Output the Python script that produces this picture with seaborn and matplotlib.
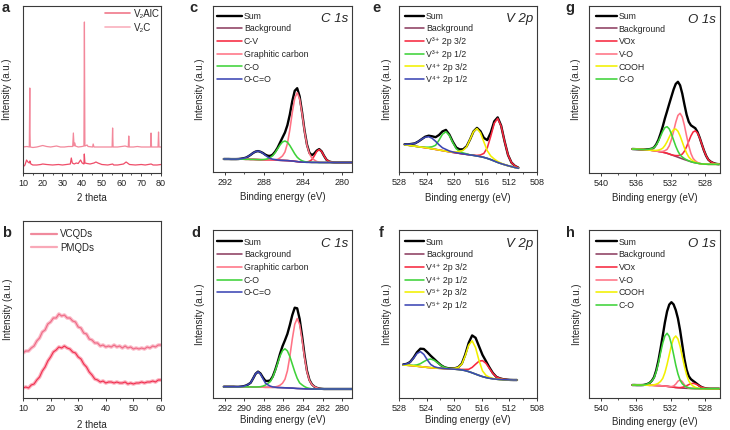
import numpy as np
import matplotlib
matplotlib.use("Agg")
import matplotlib.pyplot as plt
from matplotlib.ticker import MultipleLocator
import seaborn as sns

# ---------------- XRD (a) ----------------
alc_2theta = [10, 12, 13.2, 13.45, 13.55, 13.7, 15, 17, 19, 20, 22, 24, 27, 29, 31, 33,
              35.2, 35.55, 35.9, 36.3, 36.6, 38, 40, 40.9, 41.15, 41.4, 42.5, 43, 45.3, 45.6,
              46, 48, 50, 52, 55.2, 55.45, 55.7, 58, 60, 61.8, 63.4, 63.65, 63.9, 66, 68, 70,
              72, 74.7, 74.95, 75.2, 77, 78.5, 78.75, 79.0, 80]
alc_int = [26, 26.5, 26, 85, 40, 26, 25.5, 26, 27, 27.5, 26.5, 26, 27, 26, 26, 26.5,
           26.5, 40, 27, 30, 27, 26, 26.5, 27, 151, 27, 28, 26.5, 26, 29,
           26, 26, 26, 26, 26, 45, 26, 26, 26.5, 27, 26, 37, 26, 26, 26.5, 26,
           26, 26, 40, 26, 26, 26, 41, 26, 26]
v2c_2theta = [10, 11, 11.8, 12.5, 13.2, 13.5, 14, 15, 17, 19, 20, 22, 25, 28, 30, 32,
              34, 34.5, 35, 36, 37, 38, 39.2, 40, 40.9, 41.1, 41.4, 42.5, 44, 46, 47, 48,
              50, 53, 55.5, 56, 58, 61, 62.3, 63, 64, 67, 70, 72, 75, 76, 78, 80]
v2c_int = [6, 8, 13, 11, 10, 12, 9, 8, 8, 8.5, 9, 8.5, 8, 8.5, 8, 8.5,
           9, 15, 10, 9, 10, 9.5, 13, 10, 9, 19, 10, 9.5, 9, 10, 11, 10,
           8.5, 8, 9, 8, 8, 9, 11, 10, 8.5, 8, 8.5, 8, 9, 8, 8, 8.5]

# ---------------- XRD (b) ----------------
qd_2theta = list(range(10, 61))
vcqd_int = [45, 47, 47, 50, 52, 57, 60, 66, 68, 74, 76, 80, 80, 84, 82, 83, 80, 80, 77, 76,
            71, 70, 65, 64, 59, 58, 55, 55, 52, 53, 51, 52, 51, 53, 51, 52, 50, 52, 50, 51,
            49, 50, 49, 50, 49, 51, 50, 52, 51, 53, 53]
pmqd_int = [10, 11, 10, 13, 14, 18, 21, 27, 31, 37, 41, 46, 48, 51, 50, 52, 50, 49, 46, 45,
            41, 39, 34, 31, 26, 23, 19, 18, 16, 17, 15, 16, 16, 15, 16, 15, 15, 16, 14, 15,
            14, 15, 15, 16, 15, 16, 16, 17, 16, 18, 18]

# ---------------- XPS C 1s (c, d) ----------------
c1s_energy = np.round(292.1 - 0.25 * np.arange(54), 2)
c_bg = [13.0, 13.0, 13.0, 12.9, 12.9, 12.9, 12.8, 12.8, 12.8, 12.7,
        12.7, 12.6, 12.6, 12.5, 12.4, 12.3, 12.2, 12.1, 12.0, 12.0,
        11.9, 11.9, 11.8, 11.7, 11.6, 11.5, 11.4, 11.2, 11.0, 10.7,
        10.4, 10.1, 9.9, 9.8, 9.7, 9.7, 9.6, 9.6, 9.6, 9.5] + [9.5] * 14
# (start index on the energy grid, peak heights above background)
c_cv = (33, [0.1, 0.4, 1.0, 2.7, 6.5, 10.9, 13, 10.9, 6.5, 2.7, 1.0, 0.4, 0.1])
c_gc = (20, [0.2, 0.4, 0.9, 2.4, 4.5, 8.5, 17, 31, 48.5, 63, 69, 63, 48.5, 31, 17, 8.5, 4.5,
             2.4, 0.9, 0.4, 0.2])
c_co = (16, [0.3, 0.6, 1.3, 2.5, 4.4, 7.5, 11.4, 15.3, 18.4, 19.5, 18.4, 15.3, 11.4, 7.5, 4.4,
             2.5, 1.3, 0.6, 0.3])
c_oco = (6, [0.2, 0.5, 0.9, 1.6, 2.9, 4.6, 6.5, 7.9, 8.5, 7.9, 6.5, 4.6, 2.9, 1.6, 0.9, 0.5, 0.2])

d_bg = [11.3, 11.3, 11.3, 11.3, 11.3, 11.2, 11.2, 11.2, 11.2, 11.2,
        11.1, 11.1, 11.0, 11.0, 10.9, 10.8, 10.8, 10.7, 10.7, 10.7,
        10.6, 10.6, 10.5, 10.4, 10.3, 10.2, 10.1, 10.0, 9.9, 9.7,
        9.5, 9.4, 9.3, 9.2, 9.1, 9.1, 9.0, 9.0, 9.0, 9.0] + [9.0] * 14
d_gc = (20, [0.2, 0.5, 1.2, 2.4, 4.5, 8.5, 17, 31.5, 49, 64, 70, 64, 49, 31.5, 17, 8.5, 4.5,
             2.4, 1.2, 0.5, 0.2])
d_co = (14, [0.2, 0.5, 1.1, 2.2, 3.8, 5.7, 10.2, 16.6, 24, 31.5, 37, 39, 37, 31.5, 24, 16.6,
             10.2, 5.7, 3.8, 2.2, 1.1, 0.5, 0.2])
d_oco = (7, [0.2, 0.5, 1.2, 2.5, 4.2, 8.6, 13.2, 15.3, 13.2, 8.6, 4.2, 2.5, 1.2, 0.5, 0.2])

# ---------------- XPS V 2p (e, f) ----------------
e_energy = np.round(527.2 - 0.5 * np.arange(34), 2)
e_bg = [27.3, 26.8, 26.3, 25.8, 25.3, 24.8, 24.3, 23.8, 23.2, 22.6, 22.0, 21.4, 20.8, 20.2,
        19.6, 19.1, 18.6, 18.1, 17.6, 17.1, 16.6, 16.0, 15.4, 14.6, 13.6, 12.4, 11.0, 9.6,
        8.4, 7.3, 6.3, 5.4, 4.5, 3.7]
e_v3_32 = (20, [0.2, 0.6, 1.6, 4.0, 10.7, 23.4, 37.6, 44, 37.6, 23.4, 10.7, 4.0, 1.6, 0.6])
e_v3_12 = (6, [0.5, 1.0, 2.0, 4.1, 9.8, 16.4, 19.5, 16.4, 9.8, 4.1, 2.0, 1.0, 0.5])
e_v4_32 = (14, [0.4, 1.0, 2.0, 3.6, 7.6, 15.5, 23.8, 27.5, 23.8, 15.5, 7.6, 3.6, 2.0, 1.0, 0.4])
e_v4_12 = (0, [0.4, 0.8, 1.8, 2.8, 5.2, 8.1, 10.5, 11.5, 10.5, 8.1, 5.2, 2.8, 1.8, 0.8, 0.4, 0.2])

f_energy = np.round(527.4 - 0.5 * np.arange(34), 2)
f_bg = [33.0, 32.8, 32.5, 32.2, 31.8, 31.4, 31.0, 30.6, 30.3, 30.0, 29.8, 29.6, 29.4, 29.2,
        29.0, 28.8, 28.5, 28.1, 27.4, 26.4, 25.2, 23.9, 22.6, 21.4, 20.5, 19.8, 19.2, 18.8,
        18.5, 18.3, 18.2, 18.1, 18.0, 18.0]
f_v4_32 = (16, [0.2, 0.5, 1.2, 2.3, 5.4, 9.9, 14.2, 16, 14.2, 9.9, 5.4, 2.3, 1.2, 0.5, 0.2])
f_v4_12 = (2, [0.2, 0.5, 1.3, 2.9, 5.4, 7.7, 8.7, 7.7, 5.4, 2.9, 1.3, 0.5, 0.2])
f_v5_32 = (13, [0.1, 0.4, 0.9, 2.2, 5.7, 14.8, 26.4, 32, 26.4, 14.8, 5.7, 2.2, 0.9, 0.4, 0.1])
f_v5_12 = (0, [0.5, 1.3, 3.2, 7.5, 12.6, 15, 12.6, 7.5, 3.2, 1.3, 0.5, 0.2])

# ---------------- XPS O 1s (g, h) ----------------
o1s_energy = np.round(536.4 - 0.25 * np.arange(41), 2)
g_bg = [24.0, 23.9, 23.8, 23.7, 23.6, 23.5, 23.3, 23.1, 22.9, 22.6,
        22.3, 22.0, 21.6, 21.2, 20.8, 20.3, 19.7, 19.0, 18.2, 17.4,
        16.6, 15.8, 15.0, 14.2, 13.4, 12.7, 12.0, 11.3, 10.7, 10.2,
        9.8, 9.4, 9.1, 8.9, 8.8, 8.7, 8.7, 8.7, 8.7, 8.7, 8.7]
g_vox = (19, [0.3, 0.8, 1.6, 2.8, 4.7, 8.4, 13.6, 19.8, 25.8, 30.3, 32, 30.3, 25.8, 19.8, 13.6,
              8.4, 4.7, 2.8, 1.6, 0.8, 0.3, 0.1])
g_vo = (13, [0.3, 0.8, 2.0, 3.9, 8.2, 15.2, 24.3, 34.1, 41.8, 44.7, 41.8, 34.1, 24.3, 15.2, 8.2,
             3.9, 2.0, 0.8, 0.3])
g_cooh = (10, [0.2, 0.6, 1.3, 2.4, 4.0, 7.2, 11.6, 16.9, 22.1, 26.0, 27.4, 26.0, 22.1, 16.9,
               11.6, 7.2, 4.0, 2.4, 1.3, 0.6, 0.2])
g_co = (6, [0.2, 0.5, 1.0, 1.8, 3.1, 6.0, 10.2, 15.5, 20.9, 25.1, 26.6, 25.1, 20.9, 15.5, 10.2,
            6.0, 3.1, 1.8, 1.0, 0.5, 0.2])

h_bg = [13.0, 13.0, 12.9, 12.9, 12.9, 12.8, 12.8, 12.8, 12.7, 12.7, 12.6,
        12.5, 12.4, 12.3, 12.1, 11.9, 11.7, 11.4, 11.1, 10.8, 10.5,
        10.3, 10.1, 9.9, 9.8, 9.7, 9.6, 9.5, 9.5, 9.4, 9.4] + [9.3] * 10
h_vox = (21, [0.1, 0.3, 0.8, 1.5, 2.6, 3.8, 4.8, 5.2, 4.8, 3.8, 2.6, 1.5, 0.8, 0.3, 0.1])
h_vo = (18, [0.3, 1.2, 3.4, 6.5, 8, 6.5, 3.4, 1.2, 0.3])
h_cooh = (9, [0.2, 0.6, 1.3, 2.4, 4.3, 7.5, 13.5, 21.9, 31.8, 41.6, 48.8, 51.5, 48.8, 41.6, 31.8,
              21.9, 13.5, 7.5, 4.3, 2.4, 1.3, 0.6, 0.2])
h_co = (5, [0.2, 0.6, 1.3, 2.5, 4.4, 7.7, 13.9, 22.5, 32.8, 42.8, 50.2, 53, 50.2, 42.8, 32.8,
            22.5, 13.9, 7.7, 4.4, 2.5, 1.3, 0.6, 0.2])

c_labels = ["C-V", "Graphitic carbon", "C-O", "O-C=O"]
d_labels = ["Graphitic carbon", "C-O", "O-C=O"]
e_labels = ["V³⁺ 2p 3/2", "V³⁺ 2p 1/2", "V⁴⁺ 2p 3/2", "V⁴⁺ 2p 1/2"]
f_labels = ["V⁴⁺ 2p 3/2", "V⁴⁺ 2p 1/2", "V⁵⁺ 2p 3/2", "V⁵⁺ 2p 1/2"]
o_labels = ["VOx", "V-O", "COOH", "C-O"]

RED = "#f7283f"
PINK = "#ff7385"
GREEN = "#3fd23a"
BLUE = "#3c46b4"
YELLOW = "#f2f000"
BG = "#8e3f62"
AXC = "#3a3a3a"

sns.set_style("ticks")
plt.rcParams["font.family"] = ["Liberation Sans", "DejaVu Sans"]
plt.rcParams["mathtext.fontset"] = "custom"
plt.rcParams["mathtext.rm"] = "Liberation Sans"
plt.rcParams["mathtext.it"] = "Liberation Sans:italic"
plt.rcParams["axes.edgecolor"] = AXC
plt.rcParams["axes.linewidth"] = 0.8

W, H = 730, 430
fig = plt.figure(figsize=(W / 100, H / 100), dpi=100)


def add_ax(x0, y0, x1, y1):
    return fig.add_axes([x0 / W, 1 - y1 / H, (x1 - x0) / W, (y1 - y0) / H])


def style(ax, xlabel, yl, xlab_y):
    ax.set_yticks([])
    ax.set_ylabel("Intensity (a.u.)", fontsize=7)
    ax.yaxis.set_label_coords(yl, 0.5)
    ax.set_xlabel(xlabel, fontsize=7)
    ax.xaxis.set_label_coords(0.5, xlab_y)
    ax.tick_params(axis="x", labelsize=6.5, length=2.5, width=0.7, pad=2, colors=AXC,
                   labelcolor="#222222")
    ax.tick_params(axis="x", which="minor", length=1.5, width=0.6, colors=AXC)


def spread(n, part):
    start, vals = part
    out = np.zeros(n)
    out[start:start + len(vals)] = vals
    return out


def xps(ax, energy, bg, parts, labels, colors, title, xlim, ylim, major, minor,
        leg_anchor, handlelen, yl, xlab_y):
    bg = np.asarray(bg, dtype=float)
    comps = [spread(len(energy), p) for p in parts]
    total = bg + np.sum(comps, axis=0)
    sns.lineplot(x=energy, y=total, ax=ax, color="black", lw=1.7, label="Sum", sort=False)
    sns.lineplot(x=energy, y=bg, ax=ax, color=BG, lw=1.15, label="Background", sort=False)
    for comp, lab, col in zip(comps, labels, colors):
        sns.lineplot(x=energy, y=bg + comp, ax=ax, color=col, lw=1.15, label=lab, sort=False)
    ax.set_xlim(*xlim)
    ax.set_ylim(*ylim)
    ax.xaxis.set_major_locator(MultipleLocator(major))
    if minor:
        ax.xaxis.set_minor_locator(MultipleLocator(minor))
    ax.legend(loc="upper left", bbox_to_anchor=leg_anchor, frameon=False, fontsize=6.3,
              handlelength=handlelen, handletextpad=0.25, labelspacing=0.42,
              borderpad=0, borderaxespad=0)
    ax.text(0.97, 0.955, title, transform=ax.transAxes, ha="right", va="top",
            fontsize=9.5, style="italic")
    style(ax, "Binding energy (eV)", yl, xlab_y)


# ---- a ----
ax = add_ax(23, 6, 161, 173)
sns.lineplot(x=alc_2theta, y=alc_int, ax=ax, color="#f3889b", lw=0.9, label="V₂AlC", sort=False)
sns.lineplot(x=v2c_2theta, y=v2c_int, ax=ax, color="#ef4d69", lw=0.9, label="V₂C", sort=False)
ax.set_xlim(10, 80)
ax.set_ylim(0, 167)
ax.xaxis.set_major_locator(MultipleLocator(10))
ax.xaxis.set_minor_locator(MultipleLocator(5))
leg = ax.legend(loc="upper right", bbox_to_anchor=(0.99, 0.985), frameon=False, fontsize=7,
                handlelength=2.6, handletextpad=0.35, labelspacing=0.45, borderpad=0,
                borderaxespad=0)
for hl, col in zip(leg.get_lines(), ["#f0788a", "#f9b0be"]):
    hl.set_color(col)
    hl.set_linewidth(1.2)
style(ax, "2 theta", -0.08, -0.122)

# ---- b ----
ax = add_ax(23, 221, 161, 398)
sns.lineplot(x=qd_2theta, y=vcqd_int, ax=ax, color="#fbb3c2", lw=2.6, alpha=0.9, sort=False)
sns.lineplot(x=qd_2theta, y=vcqd_int, ax=ax, color="#ee6a85", lw=0.8, label="VCQDs", sort=False)
sns.lineplot(x=qd_2theta, y=pmqd_int, ax=ax, color="#fba5b5", lw=2.6, alpha=0.9, sort=False)
sns.lineplot(x=qd_2theta, y=pmqd_int, ax=ax, color="#f02e4e", lw=0.8, label="PMQDs", sort=False)
ax.set_xlim(10, 60)
ax.set_ylim(0, 177)
ax.xaxis.set_major_locator(MultipleLocator(10))
ax.xaxis.set_minor_locator(MultipleLocator(5))
leg = ax.legend(loc="upper left", bbox_to_anchor=(0.06, 0.955), frameon=False, fontsize=7,
                handlelength=2.6, handletextpad=0.35, labelspacing=0.4, borderpad=0,
                borderaxespad=0)
for hl, col in zip(leg.get_lines(), ["#f08a9d", "#f9a9b8"]):
    hl.set_color(col)
    hl.set_linewidth(1.6)
style(ax, "2 theta", -0.076, -0.124)

# ---- c ----
ax = add_ax(213, 6, 352, 172)
xps(ax, c1s_energy, c_bg, [c_cv, c_gc, c_co, c_oco], c_labels, [RED, PINK, GREEN, BLUE],
    "C 1s", (293.2, 279.0), (0, 166), 4, 2, (0.03, 0.965), 2.8, -0.054, -0.122)

# ---- d ----
ax = add_ax(213, 230, 352, 398)
xps(ax, c1s_energy, d_bg, [d_gc, d_co, d_oco], d_labels, [PINK, GREEN, BLUE],
    "C 1s", (293.2, 279.0), (0, 168), 2, None, (0.03, 0.955), 2.8, -0.054, -0.101)

# ---- e ----
ax = add_ax(399, 6, 537, 172)
xps(ax, e_energy, e_bg, [e_v3_32, e_v3_12, e_v4_32, e_v4_12], e_labels,
    [RED, GREEN, YELLOW, BLUE], "V 2p", (528, 508), (0, 166), 4, 2, (0.04, 0.965), 2.2,
    -0.05, -0.125)

# ---- f ----
ax = add_ax(399, 230, 537, 398)
xps(ax, f_energy, f_bg, [f_v4_32, f_v4_12, f_v5_32, f_v5_12], f_labels,
    [RED, GREEN, YELLOW, BLUE], "V 2p", (528, 508), (0, 168), 4, 2, (0.04, 0.955), 2.2,
    -0.05, -0.101)

# ---- g ----
ax = add_ax(589, 6, 720, 173)
xps(ax, o1s_energy, g_bg, [g_vox, g_vo, g_cooh, g_co], o_labels, [RED, PINK, YELLOW, GREEN],
    "O 1s", (541.4, 526.3), (0, 167), 4, 2, (0.05, 0.965), 2.4, -0.061, -0.122)

# ---- h ----
ax = add_ax(589, 230, 720, 398)
xps(ax, o1s_energy, h_bg, [h_vox, h_vo, h_cooh, h_co], o_labels, [RED, PINK, YELLOW, GREEN],
    "O 1s", (541.4, 526.3), (0, 168), 4, 2, (0.05, 0.955), 2.4, -0.053, -0.111)

# panel letters
for letter, px, py in [("a", 2, 1), ("b", 2, 226), ("c", 189, 1), ("d", 191, 226),
                       ("e", 372, 1), ("f", 379, 226), ("g", 565, 1), ("h", 566, 226)]:
    fig.text(px / W, 1 - py / H, letter, fontsize=10.5, fontweight="bold", ha="left", va="top")

fig.savefig("out.png", dpi=100)
